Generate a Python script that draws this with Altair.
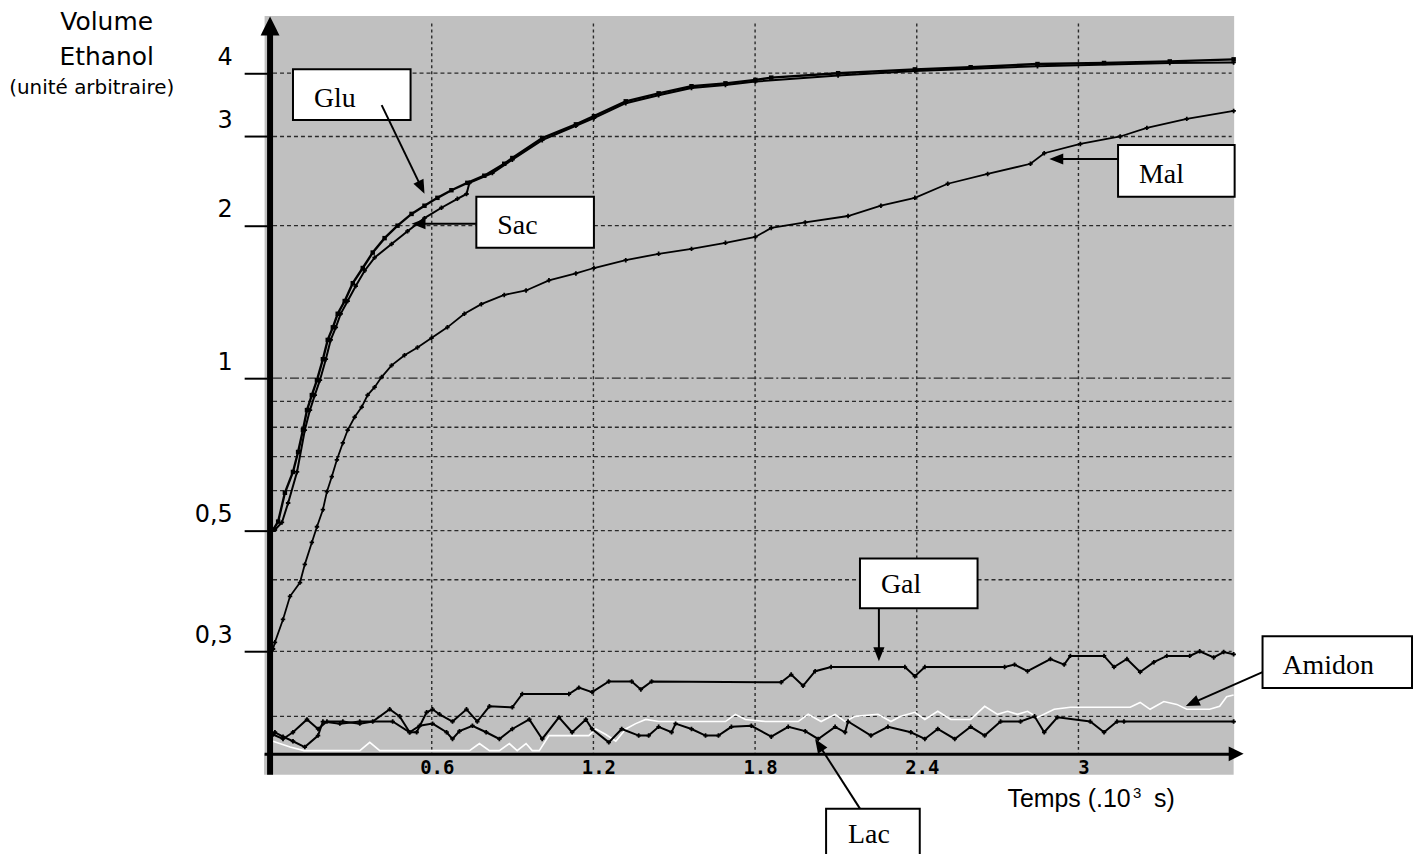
import math
import altair as alt
import pandas as pd

# ---------------- data: time (10^3 s) and ethanol volume (arbitrary units) ----------------
glu_t = [0.011, 0.030, 0.055, 0.085, 0.104, 0.122, 0.137, 0.155, 0.174, 0.196, 0.214, 0.233, 0.251, 0.277,
         0.307, 0.344, 0.381, 0.425, 0.473, 0.525, 0.573, 0.621, 0.673, 0.732, 0.795, 0.869, 0.899, 1.010,
         1.135, 1.202, 1.320, 1.442, 1.564, 1.690, 1.801, 1.860, 2.108, 2.393, 2.600, 2.848, 3.095, 3.339, 3.576]
glu_v = [0.502, 0.521, 0.594, 0.653, 0.715, 0.790, 0.865, 0.926, 0.991, 1.09, 1.19, 1.26, 1.34, 1.42,
         1.54, 1.65, 1.77, 1.89, 2.00, 2.11, 2.19, 2.27, 2.35, 2.43, 2.51, 2.65, 2.72, 2.98,
         3.17, 3.29, 3.52, 3.65, 3.77, 3.82, 3.88, 3.92, 4.00, 4.07, 4.11, 4.17, 4.19, 4.22, 4.26]

sac_t = [0.018, 0.044, 0.067, 0.100, 0.129, 0.148, 0.166, 0.185, 0.207, 0.225, 0.244, 0.262, 0.288, 0.318,
         0.351, 0.388, 0.451, 0.510, 0.573, 0.636, 0.695, 0.729, 0.740, 0.825, 0.899, 1.010, 1.135, 1.202,
         1.320, 1.442, 1.564, 1.690, 1.801, 2.108, 2.393, 2.848, 3.339, 3.576]
sac_v = [0.502, 0.519, 0.567, 0.653, 0.790, 0.865, 0.926, 0.991, 1.09, 1.19, 1.26, 1.34, 1.42, 1.52,
         1.63, 1.73, 1.84, 1.95, 2.07, 2.17, 2.26, 2.31, 2.43, 2.54, 2.70, 2.95, 3.15, 3.26,
         3.49, 3.62, 3.74, 3.79, 3.85, 3.96, 4.04, 4.13, 4.19, 4.20]

mal_t = [0.011, 0.018, 0.048, 0.074, 0.111, 0.129, 0.155, 0.174, 0.196, 0.211, 0.229, 0.248, 0.270, 0.288,
         0.314, 0.340, 0.362, 0.388, 0.414, 0.451, 0.499, 0.547, 0.599, 0.658, 0.721, 0.784, 0.869, 0.950,
         1.035, 1.135, 1.202, 1.320, 1.442, 1.564, 1.690, 1.801, 1.860, 1.986, 2.145, 2.267, 2.393, 2.515,
         2.663, 2.822, 2.873, 3.007, 3.155, 3.254, 3.402, 3.576]
mal_v = [0.292, 0.301, 0.334, 0.371, 0.395, 0.429, 0.474, 0.509, 0.550, 0.597, 0.639, 0.690, 0.745, 0.790,
         0.838, 0.877, 0.926, 0.960, 1.005, 1.06, 1.11, 1.15, 1.20, 1.26, 1.34, 1.40, 1.46, 1.49,
         1.56, 1.61, 1.65, 1.71, 1.76, 1.80, 1.85, 1.90, 1.98, 2.03, 2.09, 2.19, 2.27, 2.42,
         2.53, 2.65, 2.78, 2.90, 3.00, 3.12, 3.25, 3.37]

gal_t = [0.011, 0.048, 0.085, 0.137, 0.178, 0.211, 0.270, 0.333, 0.381, 0.444, 0.481, 0.518, 0.544, 0.581,
         0.603, 0.629, 0.677, 0.729, 0.769, 0.814, 0.899, 0.936, 1.109, 1.146, 1.195, 1.257, 1.342, 1.376,
         1.416, 1.897, 1.934, 1.978, 2.023, 2.082, 2.356, 2.393, 2.430, 2.726, 2.763, 2.811, 2.896, 2.947,
         2.970, 3.095, 3.132, 3.180, 3.229, 3.280, 3.328, 3.413, 3.450, 3.502, 3.539, 3.576]
gal_v = [0.198, 0.194, 0.200, 0.212, 0.203, 0.210, 0.210, 0.208, 0.210, 0.222, 0.215, 0.200, 0.200, 0.219,
         0.222, 0.217, 0.210, 0.222, 0.210, 0.225, 0.224, 0.238, 0.238, 0.245, 0.240, 0.252, 0.252, 0.243,
         0.252, 0.251, 0.260, 0.247, 0.264, 0.269, 0.269, 0.258, 0.269, 0.269, 0.272, 0.264, 0.279, 0.272,
         0.283, 0.283, 0.269, 0.279, 0.263, 0.275, 0.283, 0.283, 0.289, 0.281, 0.288, 0.285]

lac_t = [0.018, 0.048, 0.085, 0.129, 0.178, 0.196, 0.259, 0.333, 0.455, 0.518, 0.555, 0.603, 0.655, 0.677,
         0.703, 0.751, 0.802, 0.851, 0.899, 0.962, 1.010, 1.072, 1.121, 1.172, 1.195, 1.257, 1.305, 1.368,
         1.405, 1.442, 1.490, 1.505, 1.564, 1.616, 1.664, 1.712, 1.786, 1.860, 1.923, 1.986, 2.034, 2.097,
         2.134, 2.145, 2.230, 2.293, 2.378, 2.430, 2.478, 2.541, 2.600, 2.652, 2.711, 2.785, 2.837, 2.873,
         2.922, 3.044, 3.095, 3.143, 3.169, 3.576]
lac_v = [0.200, 0.196, 0.192, 0.187, 0.197, 0.210, 0.208, 0.210, 0.210, 0.200, 0.206, 0.208, 0.200, 0.194,
         0.201, 0.206, 0.200, 0.194, 0.203, 0.212, 0.194, 0.214, 0.200, 0.212, 0.203, 0.191, 0.203, 0.197,
         0.197, 0.205, 0.200, 0.208, 0.203, 0.197, 0.197, 0.205, 0.206, 0.196, 0.205, 0.201, 0.194, 0.205,
         0.200, 0.210, 0.197, 0.205, 0.200, 0.194, 0.203, 0.194, 0.205, 0.197, 0.210, 0.210, 0.215, 0.200,
         0.214, 0.210, 0.200, 0.210, 0.210, 0.210]

ami_t = [0.011, 0.074, 0.126, 0.333, 0.370, 0.407, 0.740, 0.777, 0.814, 0.851, 0.888, 0.917, 0.950, 0.973,
         0.999, 1.035, 1.183, 1.209, 1.246, 1.283, 1.320, 1.357, 1.394, 1.442, 1.690, 1.727, 1.764, 1.838,
         1.960, 1.997, 2.045, 2.097, 2.134, 2.171, 2.256, 2.304, 2.341, 2.393, 2.430, 2.478, 2.526, 2.600,
         2.652, 2.700, 2.737, 2.774, 2.811, 2.848, 2.910, 2.970, 3.192, 3.229, 3.266, 3.317, 3.365, 3.402,
         3.487, 3.524, 3.550, 3.576]
ami_v = [0.192, 0.187, 0.184, 0.184, 0.191, 0.184, 0.184, 0.190, 0.184, 0.184, 0.190, 0.184, 0.190, 0.184,
         0.184, 0.197, 0.197, 0.203, 0.198, 0.192, 0.203, 0.208, 0.212, 0.210, 0.210, 0.217, 0.212, 0.210,
         0.210, 0.217, 0.210, 0.217, 0.210, 0.215, 0.217, 0.210, 0.215, 0.219, 0.212, 0.220, 0.212, 0.212,
         0.225, 0.217, 0.220, 0.217, 0.220, 0.214, 0.222, 0.224, 0.224, 0.229, 0.222, 0.230, 0.227, 0.222,
         0.222, 0.225, 0.235, 0.237]

x_ticks = [0.6, 1.2, 1.8, 2.4, 3.0]
y_ticks = [0.289, 0.5, 1, 2, 3, 4]          # the grid line hand-labelled "0,3" sits at ~0.29
y_grid = [0.215, 0.289, 0.4, 0.5, 0.6, 0.7, 0.8, 0.9, 2, 3, 4]
y_grid_main = [1]

labels = ["Glu", "Sac", "Mal", "Gal", "Amidon", "Lac"]

# ---------------- layout (pixels, relative to the plot area) ----------------
W, H = 973, 741
GRAY = "#c0c0c0"
box_x1 = [29, 213, 857, 598, 1002, 564]
box_y1 = [54, 182, 130, 545, 623, 796]
box_x2 = [147, 331, 974, 716, 1152, 658]
box_y2 = [105, 233, 182, 595, 675, 847]
txt_x = [50, 234, 878, 619, 1022, 586]
txt_y = [92, 219, 168, 580, 661, 830]
arr_sx = [118, 213, 857, 617, 1002, 598]
arr_sy = [90, 209, 144, 595, 659, 796]
arr_tx = [161, 148, 788, 617, 925, 553]
arr_ty = [179, 209, 144, 648, 693, 726]

xs = alt.Scale(domain=[-0.0222, 3.576], nice=False, zero=False)
ys = alt.Scale(type="log", domain=[0.1813, 5.20], nice=False)

x_axis = alt.Axis(values=x_ticks, labelExpr="format(datum.value, '.2~r')", labelFont="DejaVu Sans Mono",
                  labelFontWeight="bold", labelFontSize=19, labelColor="black", labelOffset=5,
                  labelPadding=5, ticks=False, grid=False, domain=True, domainColor="black",
                  domainWidth=3, title=None, zindex=1, labelFlush=False, labelOverlap=False)
y_axis = alt.Axis(values=y_ticks, labelExpr="replace(format(datum.value, '.1~r'), '.', ',')",
                  labelFont="DejaVu Sans", labelFontSize=24, labelColor="black", labelBaseline="alphabetic",
                  labelOffset=-9, labelPadding=12, tickSize=23, tickWidth=2, tickColor="black",
                  domain=False, grid=False, title=None, offset=-3, zindex=1, labelOverlap=False)

X = alt.X("t:Q", scale=xs, axis=x_axis)
Y = alt.Y("v:Q", scale=ys, axis=y_axis)

layers = []

# gray strip holding the x tick labels
layers.append(alt.Chart(pd.DataFrame({"a": [0]})).mark_rect(color=GRAY).encode(
    x=alt.value(0), x2=alt.value(W), y=alt.value(H), y2=alt.value(H + 21)))

# grid
layers.append(alt.Chart(pd.DataFrame({"t": x_ticks})).mark_rule(
    color="#2a2a2a", strokeDash=[3, 3], strokeWidth=1.4).encode(x=X, y=alt.value(8), y2=alt.value(H)))
layers.append(alt.Chart(pd.DataFrame({"v": y_grid})).mark_rule(
    color="#2a2a2a", strokeDash=[4, 3], strokeWidth=1.3).encode(y=Y, x=alt.value(9), x2=alt.value(W - 2)))
layers.append(alt.Chart(pd.DataFrame({"v": y_grid_main})).mark_rule(
    color="#2a2a2a", strokeDash=[9, 3, 2, 3], strokeWidth=1.3).encode(y=Y, x=alt.value(9), x2=alt.value(W - 2)))

# curves
series = [
    (ami_t, ami_v, "white", 1.6, None),
    (lac_t, lac_v, "black", 2.0, "cross"),
    (gal_t, gal_v, "black", 2.0, "cross"),
    (mal_t, mal_v, "black", 1.8, "cross"),
    (sac_t, sac_v, "black", 2.0, "cross"),
    (glu_t, glu_v, "black", 2.4, "square"),
]
for t, v, col, sw, shp in series:
    df = pd.DataFrame({"t": t, "v": v})
    layers.append(alt.Chart(df).mark_line(color=col, strokeWidth=sw).encode(x=X, y=Y))
    if shp:
        layers.append(alt.Chart(df).mark_point(shape=shp, filled=True, color=col, size=20, opacity=1).encode(x=X, y=Y))

# thick y axis bar at t = 0
layers.append(alt.Chart(pd.DataFrame({"t": [0.0]})).mark_rule(color="black", strokeWidth=6).encode(
    x=X, y=alt.value(12), y2=alt.value(762)))
# axis arrow heads
layers.append(alt.Chart(pd.DataFrame({"a": [0]})).mark_point(
    shape="M0,-1L1,1L-1,1Z", filled=True, color="black", size=361, opacity=1).encode(
    x=alt.value(6), y=alt.value(10.5)))
layers.append(alt.Chart(pd.DataFrame({"a": [0]})).mark_point(
    shape="M1,0L-1,-1L-1,1Z", filled=True, color="black", size=225, opacity=1).encode(
    x=alt.value(975.5), y=alt.value(741)))

# annotation boxes
boxes = pd.DataFrame({"x1": box_x1, "y1": box_y1, "x2": box_x2, "y2": box_y2,
                      "tx": txt_x, "ty": txt_y, "label": labels})
layers.append(alt.Chart(boxes).mark_rect(fill="white", stroke="black", strokeWidth=2).encode(
    x=alt.X("x1:Q", scale=None, axis=None), x2="x2:Q",
    y=alt.Y("y1:Q", scale=None, axis=None), y2="y2:Q"))
layers.append(alt.Chart(boxes).mark_text(align="left", baseline="alphabetic", font="Liberation Serif",
                                         fontSize=28, color="black").encode(
    x=alt.X("tx:Q", scale=None, axis=None), y=alt.Y("ty:Q", scale=None, axis=None), text="label:N"))

# annotation arrows
HEAD = 14.0
rows = []
for sx, sy, tx, ty in zip(arr_sx, arr_sy, arr_tx, arr_ty):
    dx, dy = tx - sx, ty - sy
    n = math.hypot(dx, dy)
    ux, uy = dx / n, dy / n
    cx, cy = tx - ux * HEAD / 2, ty - uy * HEAD / 2
    ang = math.degrees(math.atan2(dx, -dy)) % 360
    rows.append({"sx": sx, "sy": sy, "cx": cx, "cy": cy, "ang": ang})
arrows = pd.DataFrame(rows)
layers.append(alt.Chart(arrows).mark_rule(color="black", strokeWidth=2).encode(
    x=alt.X("sx:Q", scale=None, axis=None), y=alt.Y("sy:Q", scale=None, axis=None),
    x2="cx:Q", y2="cy:Q"))
layers.append(alt.Chart(arrows).mark_point(shape="M0,-1L0.8,1L-0.8,1Z", filled=True, color="black",
                                           size=HEAD * HEAD, opacity=1).encode(
    x=alt.X("cx:Q", scale=None, axis=None), y=alt.Y("cy:Q", scale=None, axis=None),
    angle=alt.Angle("ang:Q", scale=None)))

# axis titles
def txt(s, x, y, font, size, align="left"):
    return alt.Chart(pd.DataFrame({"a": [0]})).mark_text(
        align=align, baseline="alphabetic", font=font, fontSize=size, color="black").encode(
        x=alt.value(x), y=alt.value(y), text=alt.value(s))

layers.append(txt("Volume", -158, 15, "DejaVu Sans", 25, "center"))
layers.append(txt("Ethanol", -158, 50, "DejaVu Sans", 25, "center"))
layers.append(txt("(unité arbitraire)", -173, 79, "DejaVu Sans", 20, "center"))
layers.append(txt("Temps (.10", 746, 794, "Liberation Sans", 25))
layers.append(txt("3", 872, 785, "Liberation Sans", 15))
layers.append(txt("s)", 893, 794, "Liberation Sans", 25))

chart = alt.layer(*layers).properties(
    width=W, height=H,
    autosize=alt.AutoSizeParams(type="none"),
    padding={"left": 257, "top": 6, "right": 182, "bottom": 99},
).configure_view(fill=GRAY, stroke="transparent")

chart.save("out.html", embed_options={"renderer": "svg", "actions": False})
